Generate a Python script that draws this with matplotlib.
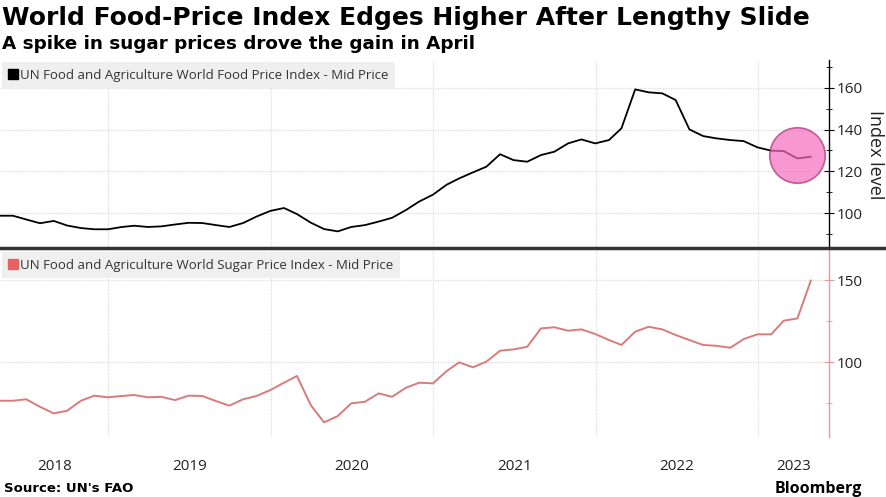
import matplotlib
matplotlib.use("Agg")
import matplotlib.pyplot as plt
import matplotlib.dates as mdates
import pandas as pd
from matplotlib.lines import Line2D

# monthly values, April 2018 .. April 2023 (plotted at month end)
months = pd.period_range("2018-04", "2023-04", freq="M").to_timestamp(how="end").normalize()

food_index = [
	98.7, 98.7, 96.9, 95.1, 96.2, 94.0, 92.8, 92.2, 92.2,
	93.3, 93.9, 93.3, 93.6, 94.5, 95.3, 95.2, 94.2, 93.3, 95.2, 98.3, 101.0,
	102.4, 99.5, 95.4, 92.3, 91.2, 93.3, 94.2, 95.9, 97.7, 101.4, 105.5, 108.8,
	113.6, 116.6, 119.5, 122.2, 128.2, 125.4, 124.6, 127.8, 129.4, 133.4, 135.3, 133.4,
	135.0, 140.6, 159.3, 157.9, 157.4, 154.2, 140.1, 136.9, 135.8, 135.0, 134.5, 131.5,
	129.9, 129.7, 126.2, 127.0,
]

sugar_index = [
	76.4, 76.4, 77.3, 72.7, 68.7, 70.3, 76.4, 79.5, 78.5,
	79.3, 79.9, 78.5, 78.8, 76.8, 79.5, 79.3, 76.2, 73.4, 77.3, 79.3, 82.9,
	87.4, 91.5, 73.8, 63.2, 67.1, 74.8, 75.8, 80.9, 78.8, 84.3, 87.4, 87.0,
	94.5, 99.8, 96.8, 100.2, 106.9, 107.7, 109.3, 120.5, 121.2, 119.1, 119.9, 117.1,
	113.4, 110.4, 118.5, 121.5, 119.9, 116.5, 113.4, 110.4, 109.9, 108.7, 114.0, 116.9,
	116.9, 125.2, 126.6, 149.6,
]

years = [2018, 2019, 2020, 2021, 2022, 2023]

title = "World Food-Price Index Edges Higher After Lengthy Slide"
subtitle = "A spike in sugar prices drove the gain in April"
food_label = "UN Food and Agriculture World Food Price Index - Mid Price"
sugar_label = "UN Food and Agriculture World Sugar Price Index - Mid Price"

FOOD_COLOR = "#000000"
SUGAR_COLOR = "#d97b7b"
SUGAR_KEY = "#e8605f"
GRID = "#dcdcdc"

plt.rcParams["font.family"] = ["Open Sans", "DejaVu Sans"]

W, H = 887, 497
fig = plt.figure(figsize=(W / 100, H / 100), dpi=100)
right = 829 / W
ax1 = fig.add_axes([0, (H - 247) / H, right, (247 - 60) / H])
ax2 = fig.add_axes([0, (H - 437) / H, right, (437 - 250) / H])

xmin = pd.Timestamp("2018-05-02")
xmax = pd.Timestamp("2023-06-10")


def _style_axis(ax, spine_color):
	"""Common look for both panels"""
	ax.set_xlim(xmin, xmax)
	for s in ["left", "top", "bottom"]:
		ax.spines[s].set_visible(False)
	ax.spines["right"].set_color(spine_color)
	ax.spines["right"].set_linewidth(1.0)
	ax.yaxis.tick_right()
	ax.tick_params(axis="y", which="major", direction="inout", length=7,
		colors=spine_color, labelcolor="#222222", labelsize=11, pad=2)
	ax.tick_params(axis="y", which="minor", direction="inout", length=5, colors=spine_color)
	ax.xaxis.set_major_locator(mdates.YearLocator())
	ax.grid(True, which="major", color=GRID, linestyle=(0, (1, 1)), linewidth=0.9)
	ax.set_axisbelow(True)
# end def


# top panel: food price index
ax1.plot(months, food_index, color=FOOD_COLOR, lw=1.3, zorder=3)
ax1.set_ylim(83.7, 173.4)
ax1.set_yticks([100, 120, 140, 160])
ax1.set_yticks(range(90, 171, 10), minor=True)
_style_axis(ax1, "#000000")
ax1.tick_params(axis="x", which="both", length=0, labelbottom=False)
ax1.scatter([months[-2]], [127.6], s=40 ** 2, facecolor="#f56cc0", alpha=0.7,
	edgecolor="#a8306f", linewidth=1.2, zorder=4)

# bottom panel: sugar price index
ax2.plot(months, sugar_index, color=SUGAR_COLOR, lw=1.4, zorder=3)
ax2.set_ylim(54.3, 168.3)
ax2.set_yticks([100, 150])
ax2.set_yticks([75, 125], minor=True)
_style_axis(ax2, "#e39a9a")

# year labels centred on the visible part of each year
label_pos = []
for y in years:
	a = max(pd.Timestamp(f"{y}-01-01"), xmin)
	b = min(pd.Timestamp(f"{y + 1}-01-01"), xmax)
	label_pos.append(a + (b - a) / 2)
ax2.set_xticks(label_pos, minor=True)
ax2.set_xticklabels([str(y) for y in years], minor=True)
ax2.tick_params(axis="x", which="both", length=0, labelbottom=False)
ax2.tick_params(axis="x", which="minor", labelbottom=True, labelsize=11,
	labelcolor="#222222", pad=16)

# legends
for ax, lab, col in [(ax1, food_label, "#000000"), (ax2, sugar_label, SUGAR_KEY)]:
	h = Line2D([], [], marker="s", linestyle="none", color=col, markersize=7)
	leg = ax.legend([h], [lab], loc="upper left", bbox_to_anchor=(0.0, 1.0),
		borderaxespad=0.15, frameon=True, fancybox=False, handlelength=0.6,
		handletextpad=0.25, borderpad=0.5, fontsize=9.5)
	leg.get_frame().set_facecolor("#efefef")
	leg.get_frame().set_edgecolor("none")
	leg.get_frame().set_alpha(1)
	for t in leg.get_texts():
		t.set_color("#333333")

# divider between panels
fig.add_artist(Line2D([0, 1], [(H - 248) / H] * 2, color="#333333", lw=2.5,
	transform=fig.transFigure))

fig.text(875 / W, (H - 155) / H, "Index level", rotation=270, ha="center",
	va="center", fontsize=13, color="#222222")

fig.text(2 / W, (H - 18) / H, title, fontsize=18, fontweight="bold",
	family="DejaVu Sans", va="center", ha="left")
fig.text(2 / W, (H - 44) / H, subtitle, fontsize=13.2, fontweight="bold",
	family="DejaVu Sans", va="center", ha="left")
fig.text(4 / W, (H - 488) / H, "Source: UN's FAO", fontsize=9.5,
	fontweight="bold", family="DejaVu Sans", va="center", ha="left")
fig.text(862 / W, (H - 489) / H, "Bloomberg", fontsize=11.5,
	fontweight="bold", va="center", ha="right")

fig.savefig("out.png", dpi=100)
